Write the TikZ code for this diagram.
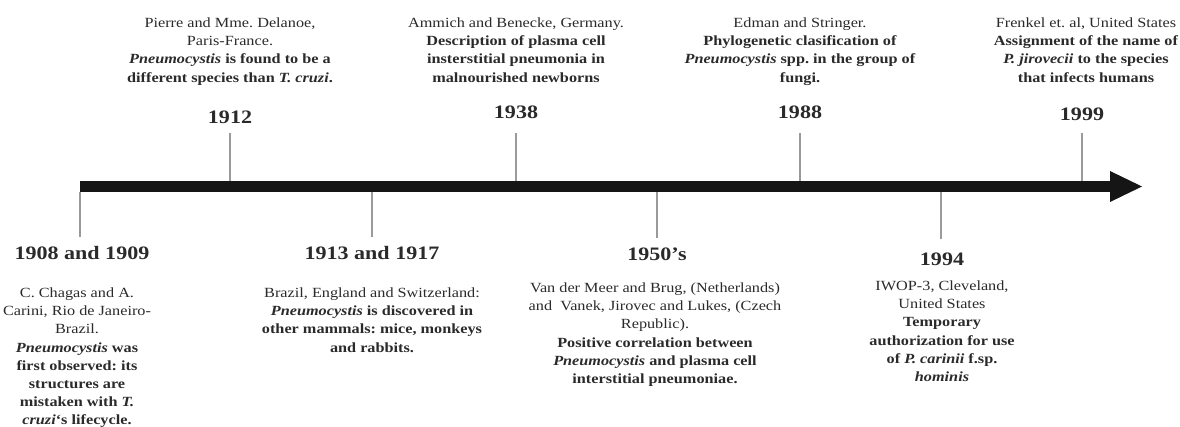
\documentclass[tikz,border=0pt]{standalone}
\usepackage{fontspec}
\setmainfont{Liberation Serif}[FakeStretch=1.16]
\frenchspacing
\definecolor{txt}{HTML}{2A2A2A}
\definecolor{barc}{HTML}{151515}
\definecolor{tickc}{HTML}{9A9A9A}
\tikzset{
  yr/.style={font=\fontsize{19}{23}\selectfont\bfseries, text=txt, inner sep=0pt},
  desc/.style={font=\fontsize{14}{18.2}\selectfont\frenchspacing, align=center, text=txt, inner sep=0pt, anchor=north},
  tickline/.style={draw=tickc, line width=1.3pt},
}
\begin{document}
\begin{tikzpicture}[x=1pt,y=-1pt]
\useasboundingbox (0,0) rectangle (1180,427);
% bar and arrowhead
\fill[barc] (80,181) rectangle (1112,192);
\fill[barc] (1110,171) -- (1142,186.5) -- (1110,202) -- cycle;
% tick coordinates on the bar
\coordinate (b1908) at (80,192);  \coordinate (e1908) at (80,237);
\coordinate (b1912) at (230,181); \coordinate (e1912) at (230,133);
\coordinate (b1913) at (372,192); \coordinate (e1913) at (372,237);
\coordinate (b1938) at (516,181); \coordinate (e1938) at (516,133);
\coordinate (b1950) at (657,192); \coordinate (e1950) at (657,238);
\coordinate (b1988) at (800,181); \coordinate (e1988) at (800,133);
\coordinate (b1994) at (941,192); \coordinate (e1994) at (941,239);
\coordinate (b1999) at (1082,181);\coordinate (e1999) at (1082,133);
\foreach \t in {1908,1912,1913,1938,1950,1988,1994,1999}
  \draw[tickline] (b\t) -- (e\t);
% years
\node[yr] (y1912) at (230,117) {1912};
\node[yr] (y1938) at (516,112) {1938};
\node[yr] (y1988) at (800,112) {1988};
\node[yr] (y1999) at (1082,114) {1999};
\node[yr] (y1908) at (82,253) {1908 and 1909};
\node[yr] (y1913) at (372,253) {1913 and 1917};
\node[yr] (y1950) at (657,254) {1950’s};
\node[yr] (y1994) at (942,259) {1994};
% descriptions, top
\node[desc] (d1912) at (230,17.5) {Pierre and Mme. Delanoe,\\ Paris-France.\\
  \textbf{\textit{Pneumocystis} is found to be a}\\
  \textbf{different species than \textit{T. cruzi}.}};
\node[desc] (d1938) at (516,17.5) {Ammich and Benecke, Germany.\\
  \textbf{Description of plasma cell}\\
  \textbf{insterstitial pneumonia in}\\
  \textbf{malnourished newborns}};
\node[desc] (d1988) at (800,17.5) {Edman and Stringer.\\
  \textbf{Phylogenetic clasification of}\\
  \textbf{\textit{Pneumocystis} spp. in the group of}\\
  \textbf{fungi.}};
\node[desc] (d1999) at (1086,17.5) {Frenkel et. al, United States\\
  \textbf{Assignment of the name of}\\
  \textbf{\textit{P. jirovecii} to the species}\\
  \textbf{that infects humans}};
% descriptions, bottom
\node[desc] (d1908) at (77,287.5) {C. Chagas and A.\\ Carini, Rio de Janeiro-\\ Brazil.\\
  \textbf{\textit{Pneumocystis} was}\\
  \textbf{first observed: its}\\
  \textbf{structures are}\\
  \textbf{mistaken with \textit{T.}}\\
  \textbf{\textit{cruzi}`s lifecycle.}};
\node[desc] (d1913) at (372,287.5) {Brazil, England and Switzerland:\\
  \textbf{\textit{Pneumocystis} is discovered in}\\
  \textbf{other mammals: mice, monkeys}\\
  \textbf{and rabbits.}};
\node[desc] (d1950) at (655,282.5) {Van der Meer and Brug, (Netherlands)\\
  and~ Vanek, Jirovec and Lukes, (Czech\\ Republic).\\
  \textbf{Positive correlation between}\\
  \textbf{\textit{Pneumocystis} and plasma cell}\\
  \textbf{interstitial pneumoniae.}};
\node[desc] (d1994) at (942,280.5) {IWOP-3, Cleveland,\\ United States\\
  \textbf{Temporary}\\
  \textbf{authorization for use}\\
  \textbf{of \textit{P. carinii} f.sp.}\\
  \textbf{\textit{hominis}}};
\end{tikzpicture}
\end{document}
